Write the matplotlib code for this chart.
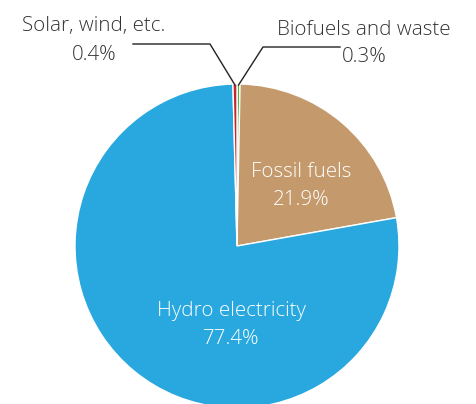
import numpy as np
import matplotlib
matplotlib.use("Agg")
import matplotlib.pyplot as plt

labels = ["Biofuels and waste", "Fossil fuels", "Hydro electricity", "Solar, wind, etc."]
values = [0.3, 21.9, 77.4, 0.4]
colors = ["#4DB848", "#C49A6C", "#29A8E0", "#C1272D"]

plt.rcParams['font.family'] = ['Open Sans', 'DejaVu Sans']

fig = plt.figure(figsize=(4.76, 4.04), dpi=100)
ax = fig.add_axes([0, 0, 1, 1])

cx, cy, r = 237, 158, 162
wedges, _ = ax.pie(values, colors=colors, startangle=90, counterclock=False,
                   center=(cx, cy), radius=r, frame=True,
                   wedgeprops=dict(edgecolor='white', linewidth=1))
ax.set_xlim(0, 476)
ax.set_ylim(0, 404)
ax.set_aspect('equal')
ax.axis('off')

fs = 14.8
fw = 'light'
txt = '#333333'

def two(x, y1, y2, name, val, color):
    ax.text(x, 404 - y1, name, ha='center', va='baseline', color=color,
            fontsize=fs, fontweight=fw)
    ax.text(x, 404 - y2, f"{val}%", ha='center', va='baseline', color=color,
            fontsize=fs, fontweight=fw)

two(301, 177, 205, labels[1], values[1], 'white')
two(231, 316, 344, labels[2], values[2], 'white')

def tip(w):
    ang = np.deg2rad((w.theta1 + w.theta2) / 2)
    return cx + r * np.cos(ang), cy + r * np.sin(ang)

sx, sy = tip(wedges[3])
ax.plot([133, 210, sx], [404 - 44, 404 - 44, sy - 1], color='#222222', lw=1)
two(94, 31, 60, labels[3], values[3], txt)

bx, by = tip(wedges[0])
ax.plot([340, 263, bx], [404 - 47, 404 - 47, by - 1], color='#222222', lw=1)
two(364, 35, 62, labels[0], values[0], txt)

fig.savefig("out.png", dpi=100, facecolor='white')
